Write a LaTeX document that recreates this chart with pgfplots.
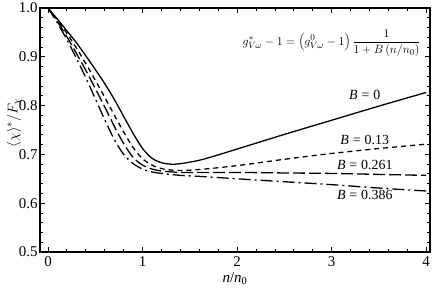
\documentclass[border=0pt]{standalone}
\usepackage{fontspec}
\setmainfont{Liberation Serif}
\usepackage{pgfplots}
\pgfplotsset{compat=1.18}
\pgfplotstableread{
x y
0 1.000
0.1 0.977
0.2 0.953
0.3 0.929
0.4 0.902
0.5 0.874
0.6 0.845
0.7 0.813
0.8 0.778
0.9 0.743
1.0 0.712
1.1 0.692
1.2 0.683
1.3 0.680
1.4 0.681
1.6 0.688
1.8 0.699
2.0 0.711
2.5 0.741
3.0 0.770
3.5 0.799
4.0 0.827
}\Bzero
\pgfplotstableread{
x y
0 1.000
0.1 0.975
0.2 0.948
0.3 0.918
0.4 0.886
0.5 0.852
0.6 0.817
0.7 0.781
0.8 0.746
0.9 0.714
1.0 0.691
1.1 0.678
1.2 0.671
1.3 0.668
1.4 0.667
1.6 0.669
2.0 0.677
2.5 0.690
3.0 0.702
3.5 0.712
4.0 0.721
}\Bone
\pgfplotstableread{
x y
0 1.000
0.1 0.972
0.2 0.941
0.3 0.907
0.4 0.872
0.5 0.835
0.6 0.797
0.7 0.758
0.8 0.722
0.9 0.694
1.0 0.678
1.1 0.670
1.2 0.666
1.4 0.663
1.6 0.663
2.0 0.663
2.5 0.662
3.0 0.661
3.5 0.659
4.0 0.657
}\Btwo
\pgfplotstableread{
x y
0 1.000
0.1 0.969
0.2 0.935
0.3 0.897
0.4 0.857
0.5 0.814
0.6 0.771
0.7 0.731
0.8 0.700
0.9 0.681
1.0 0.670
1.1 0.664
1.2 0.661
1.4 0.657
1.6 0.655
2.0 0.650
2.5 0.644
3.0 0.638
3.5 0.631
4.0 0.625
}\Bthree
\begin{document}
\begin{tikzpicture}
\begin{axis}[
  scale only axis, width=390bp, height=244bp,
  xmin=-0.085, xmax=4.04, ymin=0.5, ymax=1.0,
  xtick={0,1,2,3,4}, ytick={0.5,0.6,0.7,0.8,0.9,1.0},
  minor x tick num=4, minor y tick num=4,
  tick align=inside, major tick length=5bp, minor tick length=3bp,
  tick style={line width=0.9pt, black},
  axis line style={line width=1.6pt},
  every axis plot/.append style={line width=1.3pt, black},
  /pgf/number format/assume math mode=true,
  ticklabel style={font=\fontsize{15}{17}\selectfont},
  xticklabel style={yshift=-1bp},
  yticklabel style={xshift=1bp, /pgf/number format/.cd, fixed, fixed zerofill, precision=1},
  xlabel={\textit{n}/\textit{n}\textsubscript{0}},
  ylabel={$\langle\chi\rangle^{*}/F_{\chi}$},
  label style={font=\fontsize{15}{17}\selectfont},
  xlabel style={at={(axis description cs:0.5,-0.11)}, anchor=center},
  ylabel style={at={(axis description cs:-0.066,0.53)}, anchor=center},
]
\addplot[smooth, solid] table {\Bzero};
\addplot[smooth, dash pattern=on 5bp off 4bp] table {\Bone};
\addplot[smooth, dash pattern=on 12bp off 4bp] table {\Btwo};
\addplot[smooth, dash pattern=on 12bp off 4bp on 2bp off 4bp] table {\Bthree};
\node[font=\fontsize{14}{16}\selectfont] at (axis cs:3.35,0.821) {\textit{B}\;=\;0};
\node[font=\fontsize{14}{16}\selectfont] at (axis cs:3.35,0.729) {\textit{B}\;=\;0.13};
\node[font=\fontsize{14}{16}\selectfont] at (axis cs:3.35,0.679) {\textit{B}\;=\;0.261};
\node[font=\fontsize{14}{16}\selectfont] at (axis cs:3.35,0.617) {\textit{B}\;=\;0.386};
\node[font=\fontsize{12.5}{14}\selectfont] at (axis cs:3.0,0.928) {$\displaystyle g^{*}_{V\omega}-1=\left(g^{0}_{V\omega}-1\right)\frac{1}{1+B\left(n/n_0\right)}$};
\coordinate (sw) at (rel axis cs:0,0);
\coordinate (ne) at (rel axis cs:1,1);
\end{axis}
\pgfresetboundingbox
\path ([shift={(-40bp,-38bp)}]sw) rectangle ([shift={(6bp,8bp)}]ne);
\end{tikzpicture}
\end{document}
